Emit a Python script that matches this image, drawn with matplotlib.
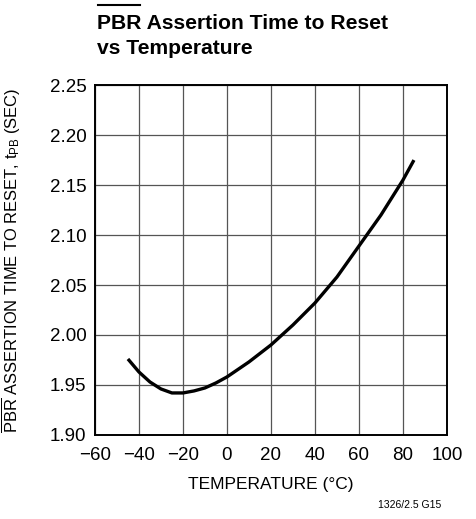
import numpy as np
import matplotlib.pyplot as plt

temp = [-45, -40, -35, -30, -25, -20, -15, -10, -5, 0, 10, 20, 30, 40, 50, 60, 70, 80, 85]
t_pb = [1.976, 1.963, 1.953, 1.946, 1.942, 1.942, 1.944, 1.947, 1.952, 1.958,
        1.973, 1.990, 2.010, 2.032, 2.058, 2.089, 2.120, 2.155, 2.175]
xticks = [-60, -40, -20, 0, 20, 40, 60, 80, 100]
yticks = [1.90, 1.95, 2.00, 2.05, 2.10, 2.15, 2.20, 2.25]

fam = 'Liberation Sans'
plt.rcParams['font.family'] = [fam, 'DejaVu Sans']
plt.rcParams['mathtext.fontset'] = 'custom'
plt.rcParams['mathtext.rm'] = fam
plt.rcParams['mathtext.it'] = fam

fig = plt.figure(figsize=(4.77, 5.19), dpi=100)
ax = fig.add_axes([0.199, 0.162, 0.738, 0.674])

ax.plot(temp, t_pb, color='black', lw=2.4, solid_capstyle='butt')

ax.set_xlim(-60, 100)
ax.set_ylim(1.90, 2.25)
ax.set_xticks(xticks)
ax.set_yticks(yticks)
ax.set_xticklabels([str(v).replace('-', '\u2212') for v in xticks])
ax.set_yticklabels(['%.2f' % v for v in yticks])
ax.tick_params(axis='y', length=0, labelsize=13.5, pad=6)
ax.tick_params(axis='x', length=0, labelsize=13.5, pad=9)
ax.grid(True, color='#555555', lw=0.9)
for s in ax.spines.values():
    s.set_linewidth(1.4)
    s.set_zorder(5)

ax.set_xlabel('TEMPERATURE (\u00b0C)', fontsize=12.5, labelpad=9)
ylab = ax.set_ylabel(r'$\overline{\mathrm{PBR}}$ ASSERTION TIME TO RESET, t$_{\mathrm{PB}}$ (SEC)',
                     fontsize=11.5)
ax.yaxis.set_label_coords(-0.205, 0.5)

t1 = fig.text(0.203, 0.955, 'PBR Assertion Time to Reset', fontsize=18, fontweight='bold',
              ha='left', va='center')
t2 = fig.text(0.203, 0.907, 'vs Temperature', fontsize=18, fontweight='bold',
              ha='left', va='center')

r = fig.canvas.get_renderer()
# fit the title width to the reference (about 292 px)
w = t1.get_window_extent(r).width
fs = 18 * 292 / w
t1.set_fontsize(fs)
t2.set_fontsize(fs)
# fit the y label length to the plot height (about 345 px)
h = ylab.get_window_extent(r).height
ylab.set_fontsize(11.5 * 345 / h)

# overline above PBR in title
tmp = fig.text(0.203, 0.955, 'PBR', fontsize=fs, fontweight='bold', ha='left', va='center')
bb = tmp.get_window_extent(r)
tmp.remove()
x0, x1 = bb.x0 / fig.bbox.width, bb.x1 / fig.bbox.width
fig.add_artist(plt.Line2D([x0 + 0.002, x1 - 0.002], [0.990, 0.990], color='black', lw=1.5,
                          transform=fig.transFigure))

fig.text(0.925, 0.027, '1326/2.5 G15', fontsize=7.5, ha='right', va='center')

fig.savefig('out.png', dpi=100)
